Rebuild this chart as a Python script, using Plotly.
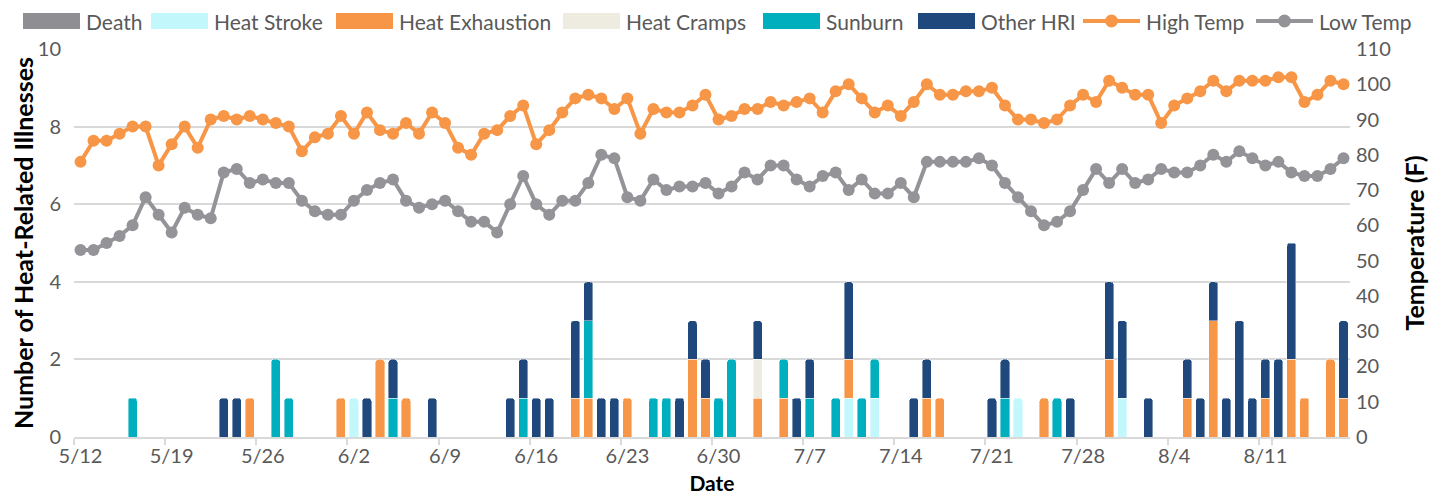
import pandas as pd
import plotly.graph_objects as go

# ---- categories ----
start_date = "2019-05-12"
n_days = 98
dates = [f"{d.month}/{d.day}" for d in pd.date_range(start_date, periods=n_days)]
tick_labels = ["5/12", "5/19", "5/26", "6/2", "6/9", "6/16", "6/23", "6/30",
               "7/7", "7/14", "7/21", "7/28", "8/4", "8/11"]

# ---- daily counts (5/12 .. 8/17) ----
death = [0] * 98
heat_stroke = [0,0,0,0,0,0,0,0,0,0, 0,0,0,0,0,0,0,0,0,0,
               0,1,0,0,0,0,0,0,0,0, 0,0,0,0,0,0,0,0,0,0,
               0,0,0,0,0,0,0,0,0,0, 0,0,0,0,0,0,0,0,0,1,
               0,1,0,0,0,0,0,0,0,0, 0,0,1,0,0,0,0,0,0,0,
               1,0,0,0,0,0,0,0,0,0, 0,0,0,0,0,0,0,0]
heat_exhaustion = [0,0,0,0,0,0,0,0,0,0, 0,0,0,1,0,0,0,0,0,0,
                   1,0,0,2,0,1,0,0,0,0, 0,0,0,0,0,0,0,0,1,1,
                   0,0,1,0,0,0,0,2,1,0, 0,0,1,0,1,0,0,0,0,1,
                   0,0,0,0,0,1,1,0,0,0, 0,0,0,0,1,0,0,0,0,2,
                   0,0,0,0,0,1,0,3,0,0, 0,1,0,2,1,0,2,1]
heat_cramps = [0,0,0,0,0,0,0,0,0,0, 0,0,0,0,0,0,0,0,0,0,
               0,0,0,0,0,0,0,0,0,0, 0,0,0,0,0,0,0,0,0,0,
               0,0,0,0,0,0,0,0,0,0, 0,0,1,0,0,0,0,0,0,0,
               0,0,0,0,0,0,0,0,0,0, 0,0,0,0,0,0,0,0,0,0,
               0,0,0,0,0,0,0,0,0,0, 0,0,0,0,0,0,0,0]
sunburn = [0,0,0,0,1,0,0,0,0,0, 0,0,0,0,0,2,1,0,0,0,
           0,0,0,0,1,0,0,0,0,0, 0,0,0,0,1,0,0,0,0,2,
           0,0,0,0,1,1,0,0,0,1, 2,0,0,0,1,0,1,0,1,0,
           1,1,0,0,0,0,0,0,0,0, 0,1,0,0,0,1,0,0,0,0,
           0,0,0,0,0,0,0,0,0,0, 0,0,0,0,0,0,0,0]
other_hri = [0,0,0,0,0,0,0,0,0,0, 0,1,1,0,0,0,0,0,0,0,
             0,0,1,0,1,0,0,1,0,0, 0,0,0,1,1,1,1,0,2,1,
             1,1,0,0,0,0,1,1,1,0, 0,0,1,0,0,1,1,0,0,2,
             0,0,0,0,1,1,0,0,0,0, 1,1,0,0,0,0,1,0,0,2,
             2,0,1,0,0,1,1,1,1,3, 1,1,2,3,0,0,0,2]

# ---- daily temperatures (F) ----
high_temp = [78,84,84,86,88,88,77,83,88,82, 90,91,90,91,90,89,88,81,85,86,
             91,86,92,87,86,89,86,92,89,82, 80,86,87,91,94,83,87,92,96,97,
             96,93,96,86,93,92,92,94,97,90, 91,93,93,95,94,95,96,92,98,100,
             96,92,94,91,95,100,97,97,98,98, 99,94,90,90,89,90,94,97,95,101,
             99,97,97,89,94,96,98,101,98,101, 101,101,102,102,95,97,101,100]
low_temp = [53,53,55,57,60,68,63,58,65,63, 62,75,76,72,73,72,72,67,64,63,
            63,67,70,72,73,67,65,66,67,64, 61,61,58,66,74,66,63,67,67,72,
            80,79,68,67,73,70,71,71,72,69, 71,75,73,77,77,73,71,74,75,70,
            73,69,69,72,68,78,78,78,78,79, 77,72,68,64,60,61,64,70,76,72,
            76,72,73,76,75,75,77,80,78,81, 79,77,78,75,74,74,76,79]

# ---- styling ----
FONT = "Lato"
C_DEATH = "#8E8E93"
C_STROKE = "#C2F7FB"
C_EXH = "#F79646"
C_CRAMP = "#EEECE1"
C_SUN = "#00AFBE"
C_OTHER = "#1F497D"
C_LOW = "#939398"
GRID = "#D9D9D9"
TICK = "#595959"

# page body has an 8px margin: figure is shrunk so it fits the 1445x500 window
OFF = 8
FIG_W, FIG_H = 1437, 492
M_L, M_R, M_T, M_B = 66, 95, 41, 63
PLOT_W = FIG_W - M_L - M_R
PLOT_H = FIG_H - M_T - M_B


def px_x(page_x):
    return (page_x - OFF - M_L) / PLOT_W


def px_y(page_y):
    return (FIG_H - M_B - (page_y - OFF)) / PLOT_H


bar_series = [
    ("Death", death, C_DEATH),
    ("Heat Stroke", heat_stroke, C_STROKE),
    ("Heat Exhaustion", heat_exhaustion, C_EXH),
    ("Heat Cramps", heat_cramps, C_CRAMP),
    ("Sunburn", sunburn, C_SUN),
    ("Other HRI", other_hri, C_OTHER),
]
line_series = [
    ("High Temp", high_temp, C_EXH),
    ("Low Temp", low_temp, C_LOW),
]

fig = go.Figure()
for name, vals, col in bar_series:
    fig.add_trace(go.Bar(
        x=dates, y=[v if v else None for v in vals], name=name,
        marker=dict(color=col, line=dict(width=0.6, color="rgba(255,255,255,0.7)"),
                    cornerradius=3),
        yaxis="y", showlegend=False,
    ))
for name, vals, col in line_series:
    fig.add_trace(go.Scatter(
        x=dates, y=vals, name=name, mode="lines+markers",
        line=dict(color=col, width=4), marker=dict(color=col, size=12),
        yaxis="y2", showlegend=False,
    ))

# ---- legend (drawn as swatches + text, Excel style) ----
legend_text_x = [85, 213, 398, 625, 825, 980, 1145, 1318]
LEG_Y = 21
shapes, annotations = [], []
entries = [(n, c, "bar") for n, _, c in bar_series] + [(n, c, "line") for n, _, c in line_series]
for (name, col, kind), tx in zip(entries, legend_text_x):
    sx0, sx1 = tx - 62, tx - 5
    if kind == "bar":
        shapes.append(dict(type="rect", xref="paper", yref="paper",
                           x0=px_x(sx0), x1=px_x(sx1), y0=px_y(LEG_Y + 8), y1=px_y(LEG_Y - 8),
                           fillcolor=col, line=dict(width=0)))
    else:
        shapes.append(dict(type="line", xref="paper", yref="paper",
                           x0=px_x(sx0), x1=px_x(sx1), y0=px_y(LEG_Y), y1=px_y(LEG_Y),
                           line=dict(color=col, width=4)))
        cx = (sx0 + sx1) / 2
        shapes.append(dict(type="circle", xref="paper", yref="paper",
                           x0=px_x(cx - 6.5), x1=px_x(cx + 6.5),
                           y0=px_y(LEG_Y + 6.5), y1=px_y(LEG_Y - 6.5),
                           fillcolor=col, line=dict(width=0)))
    annotations.append(dict(text=name, xref="paper", yref="paper",
                            x=px_x(tx), y=px_y(LEG_Y), xanchor="left", yanchor="middle",
                            showarrow=False, borderpad=0,
                            font=dict(family=FONT, size=21, color=TICK)))

fig.update_layout(
    width=FIG_W, height=FIG_H,
    margin=dict(l=M_L, r=M_R, t=M_T, b=M_B, autoexpand=False),
    paper_bgcolor="white", plot_bgcolor="white",
    barmode="stack", bargap=0.3,
    font=dict(family=FONT, size=20, color=TICK),
    showlegend=False,
    shapes=shapes, annotations=annotations,
    xaxis=dict(
        type="category", categoryorder="array", categoryarray=dates,
        range=[-0.5, n_days - 0.5],
        tickmode="array", tickvals=tick_labels, ticktext=tick_labels, tickangle=0,
        tickson="boundaries", ticks="outside", ticklen=6, tickcolor=GRID, tickwidth=1.5,
        showgrid=False, showline=True, linecolor=GRID, linewidth=2,
        tickfont=dict(family=FONT, size=20, color=TICK),
        title=dict(text="<b>Date</b>", font=dict(family=FONT, size=21, color="black"),
                   standoff=10),
    ),
    yaxis=dict(
        range=[0, 10], dtick=2, showgrid=True, gridcolor=GRID, gridwidth=2,
        zeroline=False, showline=False, ticks="", ticklabelstandoff=12,
        tickfont=dict(family=FONT, size=20, color=TICK),
        title=dict(text="<b>Number of Heat-Related Illnesses</b>",
                   font=dict(family=FONT, size=25, color="black"), standoff=2),
    ),
    yaxis2=dict(
        range=[0, 110], dtick=10, overlaying="y", side="right",
        showgrid=False, zeroline=False, showline=False, ticks="", ticklabelstandoff=5,
        tickfont=dict(family=FONT, size=20, color=TICK),
        title=dict(text="<b>Temperature (F)</b>",
                   font=dict(family=FONT, size=25, color="black"), standoff=16),
    ),
)

fig.write_html("out.html")
